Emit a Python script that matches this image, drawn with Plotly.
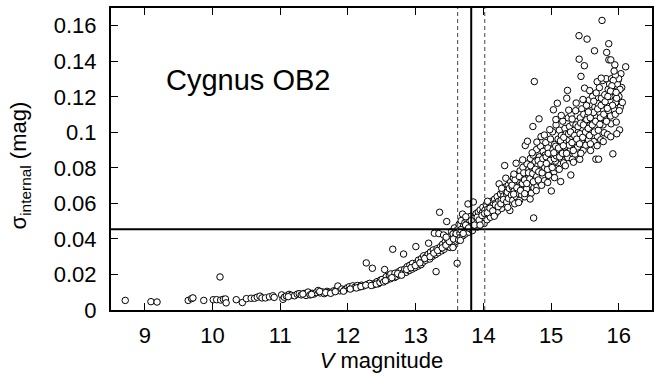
import plotly.graph_objects as go

# ---- data (V magnitude, sigma_internal in mag) ----
pts_bright = [
    (8.71, 0.0054), (9.09, 0.0047), (9.18, 0.0045), (9.64, 0.0054), (9.69, 0.0064),
    (9.71, 0.0068), (9.87, 0.0054), (10.01, 0.0058), (10.06, 0.0058), (10.11, 0.0186),
    (10.12, 0.0056), (10.16, 0.0060), (10.19, 0.0062), (10.20, 0.0040), (10.35, 0.0058),
    (10.44, 0.0042), (10.50, 0.0064), (10.57, 0.0066), (10.62, 0.0066), (10.66, 0.0072),
    (10.70, 0.0078), (10.73, 0.0068), (10.78, 0.0068), (10.84, 0.0074), (10.89, 0.0080),
    (10.91, 0.0071),
]
pts_mid = [
    (11.02, 0.0085), (11.04, 0.0060), (11.06, 0.0072), (11.09, 0.0079), (11.13, 0.0088),
    (11.16, 0.0083), (11.21, 0.0080), (11.25, 0.0089), (11.28, 0.0092), (11.31, 0.0085),
    (11.35, 0.0093), (11.38, 0.0082), (11.41, 0.0101), (11.44, 0.0085), (11.47, 0.0094),
    (11.50, 0.0090), (11.53, 0.0098), (11.56, 0.0110), (11.59, 0.0096), (11.62, 0.0102),
    (11.65, 0.0092), (11.69, 0.0105), (11.72, 0.0100), (11.76, 0.0101), (11.79, 0.0108),
    (11.83, 0.0112), (11.85, 0.0135), (11.88, 0.0108), (11.91, 0.0118), (11.95, 0.0113),
    (11.99, 0.0125), (12.02, 0.0131), (12.05, 0.0122), (12.07, 0.0136), (12.10, 0.0128),
    (12.14, 0.0138), (12.17, 0.0130), (12.20, 0.0140), (12.23, 0.0135), (12.27, 0.0265),
    (12.29, 0.0145), (12.32, 0.0150), (12.36, 0.0235), (12.38, 0.0142), (12.40, 0.0152),
    (12.43, 0.0160), (12.45, 0.0148), (12.48, 0.0168),
    (11.118, 0.0075), (11.334, 0.0090), (11.463, 0.0088), (11.582, 0.0104), (11.671, 0.0098),
    (11.744, 0.0094), (11.812, 0.0103), (11.934, 0.0106), (12.033, 0.0118), (12.124, 0.0124),
    (12.192, 0.0132), (12.263, 0.0140), (12.344, 0.0138), (12.418, 0.0146), (12.472, 0.0155),
]
pts_knee = [
    (12.503, 0.0172), (12.527, 0.0158), (12.541, 0.0228), (12.566, 0.0188), (12.574, 0.0168),
    (12.612, 0.0195), (12.628, 0.0176), (12.633, 0.0203), (12.661, 0.0342), (12.689, 0.0183),
    (12.694, 0.0207), (12.718, 0.0190), (12.752, 0.0216), (12.757, 0.0198), (12.783, 0.0224),
    (12.806, 0.0208), (12.821, 0.0315), (12.838, 0.0230), (12.859, 0.0212), (12.874, 0.0244),
    (12.905, 0.0222), (12.913, 0.0252), (12.947, 0.0230), (12.953, 0.0262), (12.988, 0.0238),
    (13.002, 0.0357), (13.016, 0.0266), (13.034, 0.0247), (13.041, 0.0281), (13.078, 0.0255),
    (13.086, 0.0290), (13.104, 0.0268), (13.117, 0.0305), (13.148, 0.0280), (13.152, 0.0298),
    (13.183, 0.0314), (13.191, 0.0376), (13.206, 0.0287), (13.218, 0.0326), (13.247, 0.0302),
    (13.259, 0.0338), (13.276, 0.0432), (13.292, 0.0312), (13.301, 0.0216), (13.314, 0.0345),
    (13.331, 0.0322), (13.342, 0.0430), (13.353, 0.0550), (13.366, 0.0356), (13.383, 0.0333),
    (13.397, 0.0370), (13.412, 0.0422), (13.421, 0.0342), (13.437, 0.0385), (13.458, 0.0498),
    (13.463, 0.0358), (13.474, 0.0395), (13.489, 0.0368), (13.502, 0.0413), (13.511, 0.0352),
    (13.523, 0.0398), (13.531, 0.0442), (13.546, 0.0377), (13.552, 0.0428), (13.564, 0.0362),
    (13.572, 0.0462), (13.583, 0.0402), (13.591, 0.0418), (13.604, 0.0388), (13.612, 0.0263),
    (13.618, 0.0452), (13.626, 0.0421),
    (12.553, 0.0165), (12.648, 0.0182), (12.734, 0.0205), (12.792, 0.0196), (12.867, 0.0228),
    (12.931, 0.0238), (12.994, 0.0250), (13.062, 0.0265), (13.133, 0.0290), (13.212, 0.0300),
    (13.268, 0.0320), (13.324, 0.0335), (13.392, 0.0350), (13.446, 0.0365), (13.497, 0.0385),
    (13.558, 0.0400), (13.598, 0.0430),
]
pts_limit = [
    (13.634, 0.0395), (13.641, 0.0482), (13.653, 0.0433), (13.659, 0.0408), (13.672, 0.0503),
    (13.684, 0.0455), (13.691, 0.0540), (13.697, 0.0418), (13.706, 0.0472), (13.713, 0.0443),
    (13.727, 0.0492), (13.731, 0.0428), (13.742, 0.0466), (13.753, 0.0512), (13.761, 0.0448),
    (13.772, 0.0597), (13.775, 0.0482), (13.786, 0.0438), (13.794, 0.0502), (13.803, 0.0458),
    (13.812, 0.0527), (13.826, 0.0474), (13.838, 0.0447), (13.851, 0.0608), (13.856, 0.0497),
    (13.862, 0.0468), (13.874, 0.0522), (13.883, 0.0484), (13.893, 0.0543), (13.902, 0.0499),
    (13.911, 0.0467), (13.924, 0.0552), (13.931, 0.0514), (13.943, 0.0488), (13.952, 0.0563),
    (13.961, 0.0523), (13.973, 0.0497), (13.984, 0.0547), (13.992, 0.0578), (14.004, 0.0519),
    (14.011, 0.0487), (14.023, 0.0562), (14.037, 0.0533), (14.042, 0.0593), (14.054, 0.0508),
    (14.063, 0.0567), (14.071, 0.0538), (14.086, 0.0603), (14.094, 0.0553), (14.103, 0.0522),
    (14.112, 0.0583), (14.124, 0.0613), (14.131, 0.0548), (14.144, 0.0592), (14.151, 0.0563),
    (14.166, 0.0624), (14.172, 0.0538), (14.183, 0.0602), (14.194, 0.0578), (14.203, 0.0638),
    (14.212, 0.0557), (14.224, 0.0612), (14.232, 0.0710), (14.241, 0.0588), (14.253, 0.0653),
    (14.262, 0.0618), (14.271, 0.0572), (14.284, 0.0668), (14.293, 0.0598), (14.302, 0.0643),
    (14.314, 0.0813), (14.322, 0.0692), (14.331, 0.0742),
    (13.667, 0.0452), (13.702, 0.0431), (13.738, 0.0478), (13.782, 0.0462), (13.819, 0.0503),
    (13.867, 0.0478), (13.908, 0.0522), (13.937, 0.0507), (13.979, 0.0532), (14.018, 0.0543),
    (14.058, 0.0548), (14.097, 0.0573), (14.138, 0.0558), (14.177, 0.0592), (14.218, 0.0582),
    (14.258, 0.0598), (14.297, 0.0622), (14.343, 0.0652), (14.378, 0.0638),
]
pts_faint1 = [
    (14.344, 0.0608), (14.352, 0.0663), (14.366, 0.0702), (14.371, 0.0628), (14.383, 0.0684),
    (14.391, 0.0560), (14.404, 0.0722), (14.413, 0.0647), (14.426, 0.0692), (14.433, 0.0617),
    (14.441, 0.0743), (14.456, 0.0672), (14.462, 0.0598), (14.474, 0.0713), (14.483, 0.0826),
    (14.487, 0.0637), (14.496, 0.0688), (14.507, 0.0762), (14.514, 0.0657), (14.522, 0.0724),
    (14.535, 0.0618), (14.541, 0.0783), (14.553, 0.0702), (14.566, 0.0648), (14.572, 0.0742),
    (14.584, 0.0803), (14.591, 0.0678), (14.603, 0.0723), (14.612, 0.0637), (14.618, 0.0926),
    (14.627, 0.0763), (14.633, 0.0698), (14.644, 0.0822), (14.651, 0.0950), (14.656, 0.0668),
    (14.664, 0.0743), (14.673, 0.0792), (14.682, 0.0708), (14.694, 0.0853), (14.702, 0.0762),
    (14.708, 0.0658), (14.713, 0.0803), (14.722, 0.0728), (14.731, 0.1033), (14.734, 0.0872),
    (14.742, 0.0518), (14.746, 0.0688), (14.752, 0.1286), (14.757, 0.0782), (14.763, 0.0833),
    (14.771, 0.0738), (14.784, 0.0903), (14.792, 0.0698), (14.803, 0.0812), (14.811, 0.0758),
    (14.822, 0.1076), (14.826, 0.0862), (14.834, 0.0718), (14.843, 0.0922), (14.851, 0.0976),
    (14.855, 0.0788), (14.862, 0.0843), (14.874, 0.0748), (14.882, 0.0893), (14.893, 0.0808),
    (14.902, 0.0728), (14.913, 0.0872), (14.921, 0.0942), (14.932, 0.0778), (14.941, 0.0832),
    (14.953, 0.0912), (14.962, 0.0758), (14.973, 0.0853), (14.984, 0.0798), (14.991, 0.0962),
    (15.003, 0.0670), (15.008, 0.0882),
]
pts_faint2 = [
    (15.012, 0.0818), (15.021, 0.1003), (15.034, 0.1127), (15.036, 0.0862), (15.043, 0.0778),
    (15.052, 0.0932), (15.064, 0.0838), (15.073, 0.1042), (15.084, 0.0902), (15.092, 0.1164),
    (15.094, 0.0798), (15.103, 0.0962), (15.114, 0.0868), (15.122, 0.1012), (15.133, 0.0918),
    (15.141, 0.0723), (15.146, 0.0852), (15.153, 0.0982), (15.164, 0.0898), (15.172, 0.1063),
    (15.184, 0.0828), (15.193, 0.0952), (15.204, 0.1022), (15.212, 0.0878), (15.223, 0.0992),
    (15.231, 0.1192), (15.236, 0.0918), (15.242, 0.1236), (15.247, 0.0858), (15.253, 0.1082),
    (15.264, 0.0958), (15.272, 0.1033), (15.283, 0.0898), (15.291, 0.0760), (15.296, 0.1102),
    (15.303, 0.0978), (15.314, 0.0848), (15.322, 0.1052), (15.334, 0.0938), (15.342, 0.1012),
    (15.353, 0.0878), (15.362, 0.1122), (15.373, 0.0968), (15.384, 0.1062), (15.392, 0.0918),
    (15.403, 0.1002), (15.412, 0.1544), (15.414, 0.1412), (15.423, 0.0848), (15.432, 0.1082),
    (15.441, 0.1315), (15.446, 0.0952), (15.453, 0.1132), (15.462, 0.1018), (15.473, 0.0898),
    (15.482, 0.1102), (15.491, 0.1375), (15.494, 0.1249), (15.498, 0.0978),
]
pts_faint3 = [
    (15.503, 0.1062), (15.512, 0.0928), (15.523, 0.1152), (15.531, 0.1525), (15.534, 0.0998),
    (15.543, 0.1092), (15.552, 0.0958), (15.564, 0.1182), (15.572, 0.1038), (15.583, 0.0898),
    (15.592, 0.1122), (15.603, 0.1008), (15.612, 0.1202), (15.623, 0.1068), (15.632, 0.0948),
    (15.641, 0.1459), (15.646, 0.1142), (15.653, 0.1028), (15.661, 0.0849), (15.666, 0.1222),
    (15.674, 0.1088), (15.683, 0.0978), (15.692, 0.1162), (15.701, 0.0849), (15.706, 0.1058),
    (15.713, 0.1252), (15.722, 0.1108), (15.734, 0.0958), (15.743, 0.1192), (15.752, 0.1630),
    (15.756, 0.1048), (15.762, 0.1292), (15.773, 0.1128), (15.784, 0.0998), (15.792, 0.1212),
    (15.803, 0.1078), (15.812, 0.1302), (15.821, 0.1450), (15.826, 0.1158), (15.834, 0.0988),
    (15.843, 0.1242), (15.851, 0.1499), (15.853, 0.1408), (15.857, 0.1098), (15.864, 0.1272),
    (15.873, 0.1178), (15.882, 0.1408), (15.886, 0.1048), (15.894, 0.1302), (15.903, 0.1212),
    (15.912, 0.0879), (15.922, 0.1128), (15.933, 0.1272), (15.941, 0.1380), (15.953, 0.1168),
    (15.962, 0.1058), (15.972, 0.1252), (15.983, 0.1312), (15.992, 0.1296), (16.002, 0.1202),
    (16.011, 0.1014), (16.022, 0.1142), (16.031, 0.1330), (16.043, 0.1252), (16.052, 0.1168),
    (16.101, 0.1369),
]
pts_core = [
    (14.423, 0.0703), (14.447, 0.0652), (14.468, 0.0733), (14.494, 0.0688), (14.527, 0.0752),
    (14.548, 0.0673), (14.577, 0.0712), (14.596, 0.0772), (14.608, 0.0732), (14.638, 0.0682),
    (14.667, 0.0772), (14.686, 0.0738), (14.698, 0.0812), (14.727, 0.0768), (14.738, 0.0722),
    (14.768, 0.0792), (14.787, 0.0752), (14.808, 0.0842), (14.817, 0.0778), (14.848, 0.0822),
    (14.867, 0.0772), (14.878, 0.0852), (14.907, 0.0802), (14.926, 0.0862), (14.947, 0.0792),
    (14.958, 0.0882), (14.987, 0.0842), (15.016, 0.0802), (15.027, 0.0902), (15.048, 0.0852),
    (15.068, 0.0922), (15.078, 0.0868), (15.108, 0.0912), (15.127, 0.0862), (15.138, 0.0952),
    (15.168, 0.0882), (15.187, 0.0972), (15.198, 0.0918), (15.227, 0.0882), (15.258, 0.0992),
    (15.268, 0.0928), (15.287, 0.1002), (15.308, 0.0942), (15.327, 0.0898), (15.347, 0.0982),
    (15.367, 0.1042), (15.378, 0.0962), (15.398, 0.1032), (15.427, 0.0992), (15.437, 0.1052),
    (15.467, 0.0972), (15.477, 0.1042), (15.508, 0.1002), (15.527, 0.1072), (15.548, 0.1022),
    (15.567, 0.0982), (15.578, 0.1082), (15.608, 0.1042), (15.627, 0.1112), (15.637, 0.1002),
    (15.657, 0.1062), (15.688, 0.1132), (15.697, 0.1012), (15.727, 0.1082), (15.738, 0.1152),
    (15.767, 0.1042), (15.778, 0.1102), (15.797, 0.1172), (15.817, 0.1062), (15.847, 0.1122),
    (15.867, 0.1202), (15.878, 0.1092), (15.907, 0.1152), (15.917, 0.1232), (15.947, 0.1102),
    (15.967, 0.1192), (15.978, 0.1272), (16.007, 0.1122), (16.017, 0.1242), (15.997, 0.1302),
    (15.948, 0.1322), (15.918, 0.1292), (15.898, 0.1262), (15.876, 0.1232), (15.838, 0.1202),
]
pts_spread = [
    (14.52, 0.0605), (14.61, 0.0655), (14.69, 0.0625), (14.78, 0.0672), (14.86, 0.0702),
    (14.95, 0.0718), (15.05, 0.0745), (15.12, 0.0792), (15.21, 0.0812), (15.33, 0.0832),
    (15.44, 0.0882), (15.58, 0.0935), (15.68, 0.0925), (15.77, 0.0948), (15.88, 0.0975),
    (15.97, 0.0992), (14.58, 0.0845), (14.72, 0.0885), (14.79, 0.0945), (14.90, 0.0985),
    (14.98, 0.1015), (15.07, 0.1072), (15.15, 0.1095), (15.26, 0.1125), (15.37, 0.1165),
    (15.47, 0.1185), (15.57, 0.1235), (15.68, 0.1285), (15.74, 0.1305), (15.93, 0.1345),
    (14.64, 0.0712), (14.81, 0.0732), (14.93, 0.0825), (15.04, 0.0885), (15.18, 0.0925),
    (15.31, 0.1075), (15.42, 0.0935), (15.55, 0.1115), (15.63, 0.1175), (15.72, 0.1045),
    (15.83, 0.1135), (15.96, 0.1225), (13.45, 0.0410), (13.55, 0.0352), (13.66, 0.0392),
    (13.74, 0.0525), (13.95, 0.0478), (14.06, 0.0612), (14.16, 0.0528), (14.27, 0.0685),
    (14.36, 0.0578), (14.45, 0.0765),
]

sigma_limit = 0.0455            # horizontal solid line
v_limit = 13.82                 # vertical solid line
v_limit_range = [13.62, 14.02]  # dashed lines

x_tickvals = [9, 10, 11, 12, 13, 14, 15, 16]
y_tickvals = [0, 0.02, 0.04, 0.06, 0.08, 0.1, 0.12, 0.14, 0.16]
y_ticktext = ["0", "0.02", "0.04", "0.06", "0.08", "0.1", "0.12", "0.14", "0.16"]

all_pts = (pts_bright + pts_mid + pts_knee + pts_limit + pts_faint1
           + pts_faint2 + pts_faint3 + pts_core + pts_spread)
v_mag = [p[0] for p in all_pts]
sigma_int = [p[1] for p in all_pts]

FONT = "Liberation Sans, Arial, Helvetica, sans-serif"

fig = go.Figure()
fig.add_trace(go.Scatter(
    x=v_mag, y=sigma_int, mode="markers",
    marker=dict(symbol="circle", size=6.5, color="white", line=dict(color="black", width=1)),
    showlegend=False, hoverinfo="skip",
))

shapes = [
    dict(type="line", xref="paper", yref="y", x0=0, x1=1, y0=sigma_limit, y1=sigma_limit,
         line=dict(color="black", width=2)),
    dict(type="line", xref="x", yref="paper", x0=v_limit, x1=v_limit, y0=0, y1=1,
         line=dict(color="black", width=2)),
]
for vv in v_limit_range:
    shapes.append(dict(type="line", xref="x", yref="paper", x0=vv, x1=vv, y0=0, y1=1,
                       line=dict(color="#444444", width=1, dash="4px,3px")))

axis_common = dict(
    showline=True, linecolor="black", linewidth=2, mirror="ticks",
    ticks="inside", ticklen=7, tickwidth=1, tickcolor="black",
    showgrid=False, zeroline=False,
    tickfont=dict(family=FONT, size=22, color="black"),
)

fig.update_layout(
    width=654, height=376,
    margin=dict(l=111, r=0, t=8, b=66),
    plot_bgcolor="white", paper_bgcolor="white",
    shapes=shapes,
    xaxis=dict(range=[8.5, 16.49], tickvals=x_tickvals, ticklabelstandoff=5,
               title=dict(text="<i>V</i> magnitude", font=dict(family=FONT, size=22, color="black"),
                          standoff=3),
               **axis_common),
    yaxis=dict(range=[0, 0.17], tickvals=y_tickvals, ticktext=y_ticktext, ticklabelstandoff=8,
               **axis_common),
    annotations=[
        dict(text="Cygnus OB2", xref="x", yref="y", x=9.29, y=0.1295, xanchor="left",
             yanchor="middle", showarrow=False, font=dict(family=FONT, size=29, color="black")),
        dict(text="σ<sub>internal</sub> (mag)", xref="paper", yref="paper",
             x=-(111 - 20) / 543, y=0.48, xanchor="center", yanchor="middle", textangle=-90,
             showarrow=False, font=dict(family=FONT, size=22, color="black")),
    ],
)

fig.write_html("out.html")
